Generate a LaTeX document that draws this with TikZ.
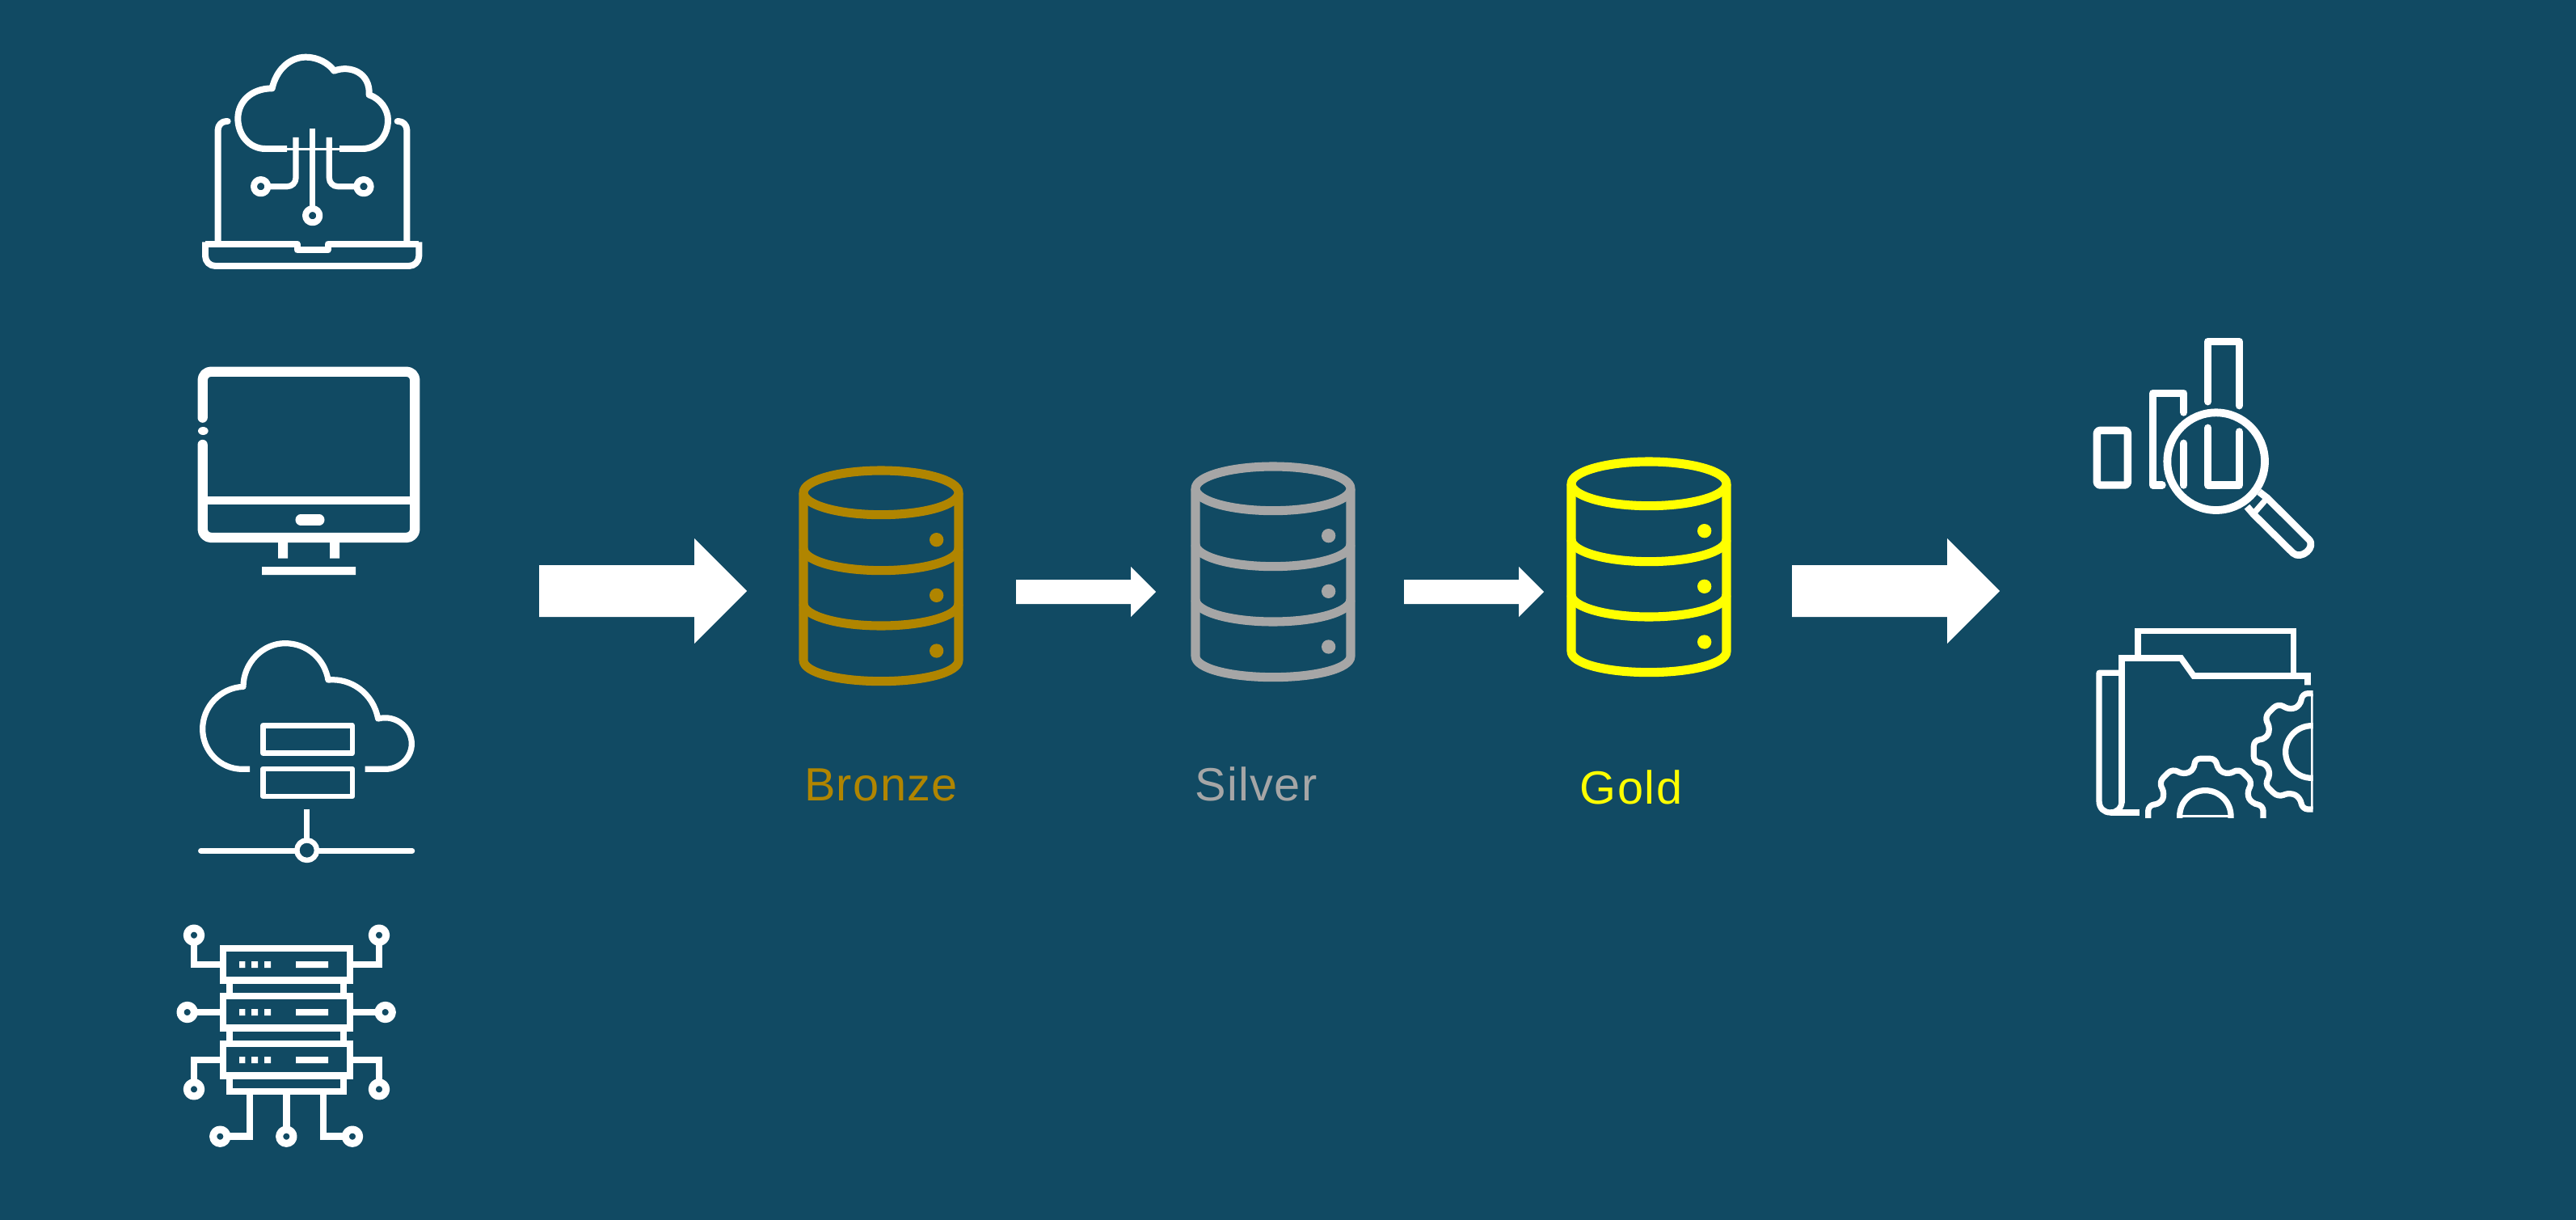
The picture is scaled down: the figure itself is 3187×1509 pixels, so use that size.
\documentclass[tikz,border=0pt]{standalone}
\usepackage{fontspec}
\setmainfont[LetterSpace=2.5]{Liberation Sans}
\definecolor{bgblue}{HTML}{114A63}
\definecolor{bronzec}{HTML}{B08500}
\definecolor{silverc}{HTML}{A6A6A6}
\definecolor{goldc}{HTML}{FFFF00}
\tikzset{
  ico/.style={draw=white,line width=#1*0.103pt,line join=round},
  icoround/.style={ico=#1,line cap=round},
  zoomed/.style={shift={#1},scale=0.33333},
  blockarrow/.style={fill=white,draw=none},
  dblabel/.style={anchor=base,font=\fontsize{16.4}{20}\selectfont,inner sep=0pt},
  tier/.style={draw=#1,line width=3.15pt,line join=round}
}
\newcommand{\dbcyl}[3]{%
  \begin{scope}[zoomed={(#1,#2)}]
    \draw[tier=#3] (390,178) ellipse [x radius=288,y radius=82];
    \draw[tier=#3] (102,178) -- (102,800) .. controls (102,845) and (230,878) .. (390,878) .. controls (550,878) and (678,845) .. (678,800) -- (678,178);
    \draw[tier=#3] (102,385) .. controls (102,430) and (230,467) .. (390,467) .. controls (550,467) and (678,430) .. (678,385);
    \draw[tier=#3] (102,590) .. controls (102,635) and (230,672) .. (390,672) .. controls (550,672) and (678,635) .. (678,590);
    \fill[#3] (596,353) circle (26) (596,559) circle (26) (596,765) circle (26);
  \end{scope}}
\newcommand{\bigarrow}[1]{%
  \fill[blockarrow,shift={(#1,0)}] (0,699) -- (192,699) -- (192,666) -- (257,731) -- (192,796) -- (192,763) -- (0,763) -- cycle;}
\newcommand{\midarrow}[1]{%
  \fill[blockarrow,shift={(#1,0)}] (0,717) -- (142,717) -- (142,701) -- (173,732) -- (142,763) -- (142,747) -- (0,747) -- cycle;}
\begin{document}
\begin{tikzpicture}[x=0.01cm,y=-0.01cm]
\useasboundingbox (0,0) rectangle (3187,1509);
\fill[bgblue] (0,0) rectangle (3187,1509);

% laptop with cloud
\begin{scope}[zoomed={(200,40)}]
  \draw[ico=22] (465,432) -- (385,432) .. controls (325,432) and (283,380) .. (283,320) .. controls (283,260) and (330,208) .. (410,208) .. controls (425,140) and (475,92) .. (535,92) .. controls (580,92) and (620,115) .. (640,143) .. controls (700,120) and (775,150) .. (770,232) .. controls (810,245) and (840,285) .. (840,325) .. controls (840,385) and (800,432) .. (745,432) -- (660,432);
  \draw[ico=7] (465,434) -- (660,434);
  \draw[ico=20] (560,357) -- (560,655);
  \draw[ico=22] (560,680) circle (26);
  \draw[ico=20,rounded corners=3pt] (498,390) -- (498,572) -- (394,572);
  \draw[ico=20,rounded corners=3pt] (622,390) -- (622,572) -- (726,572);
  \draw[ico=22] (368,572) circle (26) (750,572) circle (26);
  \draw[icoround=22,rounded corners=3pt] (245,330) -- (209,330) -- (209,785);
  \draw[icoround=22,rounded corners=3pt] (875,330) -- (910,330) -- (910,785);
  \draw[ico=22] (162,785) -- (503,785) -- (503,808) -- (617,808) -- (617,785) -- (955,785);
  \draw[ico=22,rounded corners=3.5pt] (162,778) -- (162,867) -- (955,867) -- (955,778);
\end{scope}

% monitor
\begin{scope}[zoomed={(200,420)}]
  \draw[icoround=34,rounded corners=3pt] (152,290) -- (152,119) -- (940,119) -- (940,735) -- (152,735) -- (152,390);
  \fill[white] (154,339) ellipse [x radius=19,y radius=15];
  \draw[ico=27] (152,598) -- (940,598);
  \draw[icoround=36] (516,669) -- (585,669);
  \fill[white] (432,750) rectangle (468,812) (624,750) rectangle (660,812) (372,843) rectangle (720,873);
\end{scope}

% cloud with servers
\begin{scope}[zoomed={(200,760)}]
  \draw[ico=20] (327,574) -- (300,574) .. controls (215,574) and (152,505) .. (152,425) .. controls (152,345) and (215,272) .. (303,268) .. controls (303,180) and (375,107) .. (458,107) .. controls (540,107) and (605,165) .. (618,243) .. controls (700,235) and (785,290) .. (803,387) .. controls (870,370) and (928,420) .. (928,480) .. controls (928,530) and (885,574) .. (830,574) -- (755,574);
  \draw[ico=18] (376,412) rectangle (708,515) (376,573) rectangle (708,675);
  \draw[ico=18] (539,722) -- (539,832);
  \draw[ico=18] (539,875) circle (37);
  \draw[icoround=18] (145,877) -- (495,877) (585,877) -- (930,877);
\end{scope}

% server rack
\begin{scope}[zoomed={(200,1120)}]
  \tikzset{rack/.style={draw=white,line width=2.48pt,line join=miter}}
  \foreach \t in {159,336,513} {
    \draw[rack] (228,\t) rectangle (699,\t+118);
    \fill[white] (288,\t+48) rectangle (310,\t+72)
                 (333,\t+48) rectangle (357,\t+72)
                 (381,\t+48) rectangle (405,\t+72)
                 (498,\t+48) rectangle (618,\t+72);
  }
  \draw[rack] (252,288) -- (252,324) (675,288) -- (675,324)
              (252,465) -- (252,501) (675,465) -- (675,501);
  \draw[rack] (252,642) -- (252,690) -- (675,690) -- (675,642);
  \draw[rack] (120,140) -- (120,219) -- (216,219);
  \draw[rack] (807,140) -- (807,219) -- (711,219);
  \draw[rack] (125,396) -- (216,396) (711,396) -- (800,396);
  \draw[rack] (120,650) -- (120,573) -- (216,573);
  \draw[rack] (807,650) -- (807,573) -- (711,573);
  \draw[rack] (327,690) -- (327,857) -- (250,857);
  \draw[rack] (463,690) -- (463,830);
  \draw[rack] (600,690) -- (600,857) -- (680,857);
  \foreach \px/\py in {120/110,807/110,95/396,830/396,120/682,807/682,217/857,463/857,708/857}
    \draw[ico=25] (\px,\py) circle (26);
\end{scope}

% charts with magnifier
\begin{scope}[zoomed={(2560,400)}]
  \draw[ico=26,rounded corners=1pt] (103,397) rectangle (217,600);
  \draw[icoround=26] (345,600) -- (311,600) -- (311,259) -- (425,259) -- (425,330);
  \draw[icoround=26] (425,445) -- (425,600);
  \draw[icoround=26] (515,290) -- (515,67) -- (631,67) -- (631,305);
  \draw[icoround=26] (515,388) -- (515,600) -- (631,600) -- (631,402);
  \draw[ico=27] (545,512) circle (181);
  \draw[ico=24] (660,680) -- (683,707) -- (830,852) .. controls (860,880) and (920,830) .. (888,800) -- (735,648) -- (705,625);
  \draw[ico=20] (683,707) -- (735,648);
\end{scope}

% folder with gears
\begin{scope}[zoomed={(2560,750)}]
  \draw[ico=21,line join=miter] (255,185) -- (255,92) -- (832,92) -- (832,250);
  \draw[ico=21,line join=miter] (885,292) -- (885,258) -- (462,258) -- (415,192) -- (195,192) -- (195,730);
  \draw[ico=20] (195,247) -- (111,247) -- (111,722) .. controls (111,750) and (130,765) .. (153,765) .. controls (176,765) and (195,750) .. (195,722);
  \draw[ico=20] (153,765) -- (260,765);
  \begin{scope}
    \clip (0,0) rectangle (905,783);
    \draw[ico=20,rounded corners=2pt] (293,790) -- (293,738) -- (340,732) -- (355,695) -- (333,652) -- (383,602) -- (425,625) -- (465,605) -- (465,565) -- (545,565) -- (550,605) -- (590,625) -- (630,602) -- (680,652) -- (658,695) -- (678,732) -- (720,738) -- (720,790);
    \draw[ico=20] (410,790) -- (410,778) arc [start angle=180,end angle=0,x radius=95,y radius=-95] -- (600,790);
    \draw[ico=8] (410,778) -- (600,778);
    \draw[ico=20,rounded corners=2pt] (910,323) -- (865,323) -- (858,368) -- (820,385) -- (775,360) -- (725,410) -- (747,455) -- (730,492) -- (685,497) -- (685,578) -- (730,582) -- (748,625) -- (725,660) -- (775,708) -- (820,690) -- (858,710) -- (865,753) -- (910,753);
    \draw[ico=20] (910,443) -- (900,443) arc [start angle=90,end angle=270,x radius=97,y radius=-97] -- (910,637);
    \draw[ico=8] (901,323) -- (901,753);
  \end{scope}
\end{scope}

% data tiers
\dbcyl{960}{550}{bronzec}
\dbcyl{1445}{545}{silverc}
\dbcyl{1910}{539}{goldc}
\node[dblabel,text=bronzec] (bronzelabel) at (1090,990) {Bronze};
\node[dblabel,text=silverc] (silverlabel) at (1554,990) {Silver};
\node[dblabel,text=goldc] (goldlabel) at (2018,994) {Gold};

% arrows
\bigarrow{667}
\midarrow{1257}
\midarrow{1737}
\bigarrow{2217}
\end{tikzpicture}
\end{document}
